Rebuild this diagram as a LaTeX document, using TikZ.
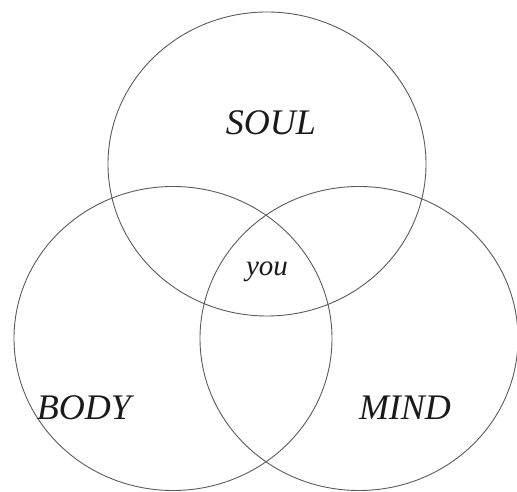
\documentclass[tikz,border=0pt]{standalone}
\usepackage{fontspec}
\setmainfont{Liberation Serif}
\usepackage{xcolor}
\usepackage{tikz}
\usetikzlibrary{positioning,shapes.geometric}
\definecolor{ink}{HTML}{5A5A5A}
\definecolor{word}{HTML}{1A1A1A}
\tikzset{
  ring/.style={ellipse, draw=ink, line width=0.9pt, minimum width=318pt,
               minimum height=304pt, inner sep=0pt},
  big/.style={font=\fontsize{36}{40}\selectfont\itshape, text=word, inner sep=0pt},
  small/.style={font=\fontsize{29}{32}\selectfont\itshape, text=word, inner sep=0pt},
}

\begin{document}
\begin{tikzpicture}[x=1pt, y=1pt]
    \useasboundingbox (0,0) rectangle (517,492);
    \node[ring] (soul) at (267,328) {};
    \node[ring] (body) at (173,153.5) {};
    \node[ring] (mind) at (359,153.5) {};
    \node[big] (soultxt) at (271,369) {SOUL};
    \node[big] (bodytxt) at (84,84) {BODY};
    \node[big] (mindtxt) at (405,84) {MIND};
    \node[small] (you) at (267,220) {you};
  \end{tikzpicture}
\end{document}
